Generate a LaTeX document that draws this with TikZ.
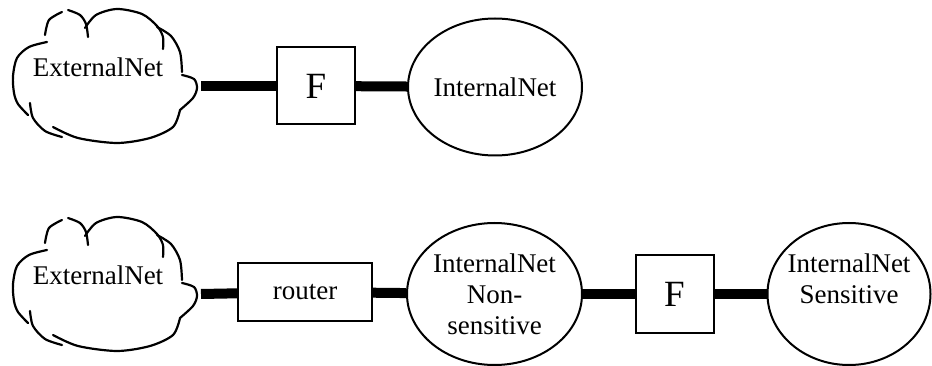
\documentclass[tikz,border=0pt]{standalone}
\usepackage{fontspec}
\setmainfont{Liberation Serif}
\usetikzlibrary{shapes.geometric}

\begin{document}
\begin{tikzpicture}[
    x=1pt, y=-1pt,
    lbl/.style={font=\fontsize{27}{31}\selectfont, inner sep=0pt},
    router/.style={rectangle, draw, line width=2pt, minimum width=134pt, minimum height=58pt, font=\fontsize{27}{31}\selectfont},
    fw/.style={rectangle, draw, line width=2pt, minimum width=78pt, minimum height=77pt, font=\fontsize{37}{40}\selectfont},
    net/.style={ellipse, draw, line width=2pt, align=center, inner xsep=-20pt, inner ysep=0pt, font=\fontsize{27}{31}\selectfont},
    link/.style={line width=10pt},
    pics/netcloud/.style={code={
        \begin{scope}[shift={(-98,-67)}, line width=2.2pt, line cap=round]
        \draw plot[smooth] coordinates {(45,35) (49,20) (62,12)};
        \draw plot[smooth] coordinates {(68,10) (80,15) (86,24) (88,37)};
        \draw plot[smooth] coordinates {(85,28) (96,15) (117,9) (142,14) (157,26) (163,37) (163,49)};
        \draw plot[smooth] coordinates {(157,27) (171,36) (180,52) (182,72)};
        \draw plot[smooth] coordinates {(182,75) (194,79) (197,88) (193,98) (180,110)};
        \draw plot[smooth] coordinates {(180,110) (173,127) (150,138) (117,143) (78,138) (53,127)};
        \draw plot[smooth] coordinates {(30,103) (33,118) (45,131) (62,137)};
        \draw plot[smooth] coordinates {(47,42) (29,47) (17,58) (13,76) (14,93) (18,104) (28,115)};
        \coordinate (-port) at (201,86);
        \node[lbl] (-txt) at (98,67) {#1};
        \end{scope}
    }}
]
\useasboundingbox (0,0) rectangle (932,366);

\pic (ext1) at (98,67) {netcloud=ExternalNet};
\node[fw] (fw1) at (316,86) {F};
\node[net, minimum width=174pt, minimum height=137pt] (int1) at (495,87) {InternalNet};

\pic (ext2) at (98,275) {netcloud=ExternalNet};
\node[router] (router) at (305,292) {router};
\node[net, minimum width=175pt, minimum height=142pt] (int2) at (494.5,294) {InternalNet\\Non-\\sensitive};
\node[fw] (fw2) at (674.5,294) {F};
\node[net, minimum width=163pt, minimum height=142pt] (int3) at (849,294) {InternalNet\\Sensitive\\~};

\draw[link] (ext1-port) -- (fw1);
\draw[link] (fw1) -- (int1);
\draw[link] (ext2-port) -- (router);
\draw[link] (router) -- (int2);
\draw[link] (int2) -- (fw2);
\draw[link] (fw2) -- (int3);

\end{tikzpicture}
\end{document}
